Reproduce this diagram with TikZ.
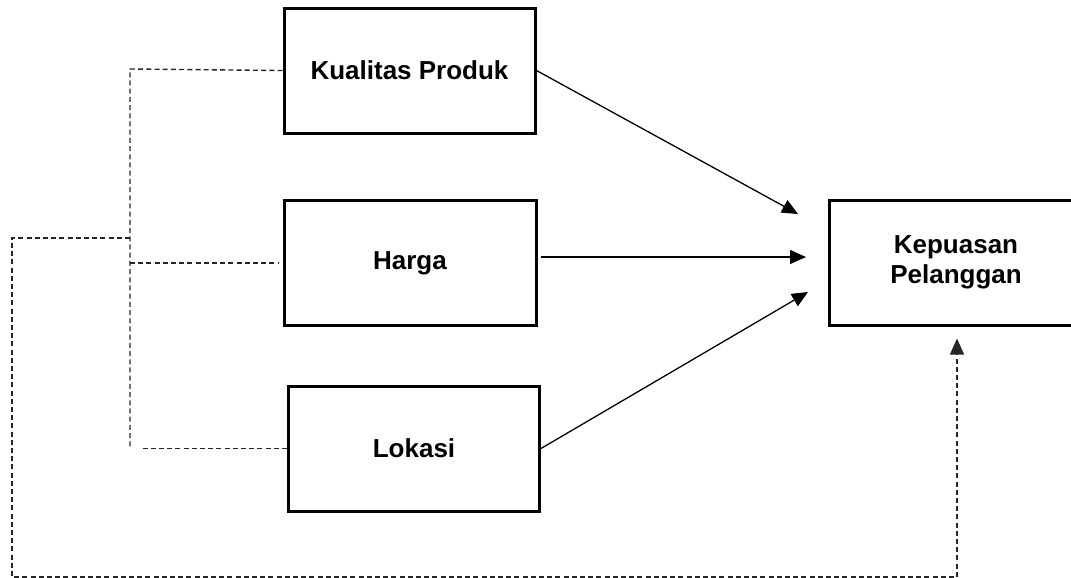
\documentclass[tikz,border=0pt]{standalone}
\usepackage{fontspec}
\setmainfont{Liberation Sans}
\usetikzlibrary{arrows.meta}

\begin{document}
\begin{tikzpicture}[x=0.5pt,y=-0.5pt]

\tikzstyle{every node}=[font=\fontsize{13}{15}\selectfont\bfseries]
\tikzstyle{var_box}=[draw, line width=1.5pt, minimum width=125.5pt, minimum height=62.5pt, align=center, inner sep=0pt]
\tikzstyle{effect}=[-{Triangle[length=8pt,width=7pt]}, line width=0.65pt]
\tikzstyle{link}=[dash pattern=on 2.5pt off 1.6pt, line width=0.7pt, draw=black!85]

\useasboundingbox (0,0) rectangle (1071,578);

\node (kualitas) at (409.5,70.5) [var_box] {Kualitas Produk};
\node (harga) at (410,263) [var_box, minimum width=126pt] {Harga};
\node (lokasi) at (414,448.5) [var_box] {Lokasi};
\node (kepuasan) at (956,262.5) [var_box, minimum width=127pt] {Kepuasan\\Pelanggan};

\coordinate (tip_kualitas) at (798,214);
\coordinate (tip_harga) at (806,257);
\coordinate (tip_lokasi) at (808,292);

\draw[effect] (kualitas.east) -- (tip_kualitas);
\draw[effect, shorten <=1.5pt] (harga.east |- tip_harga) -- (tip_harga);
\draw[effect] (lokasi.east) -- (tip_lokasi);

% dashed links on the left
\coordinate (spine_top) at (130,69);
\coordinate (spine_mid) at (130,238);
\coordinate (spine_bot) at (130,447);
\coordinate (loop_top) at (12,238);
\coordinate (loop_bot) at (12,577);
\coordinate (loop_end) at (957,577);

\draw[link] (kualitas.west) -- (spine_top) -- (spine_bot);
\draw[link, shorten >=2pt] (spine_mid |- harga.west) -- (harga.west);
\draw[link] (lokasi.west) -- +(-146,0);
\draw[link, -{Triangle[length=8pt,width=7pt]}, shorten >=6pt]
	(spine_mid) -- (loop_top) -- (loop_bot) -- (loop_end)
	-- (loop_end |- kepuasan.south);

\end{tikzpicture}
\end{document}
